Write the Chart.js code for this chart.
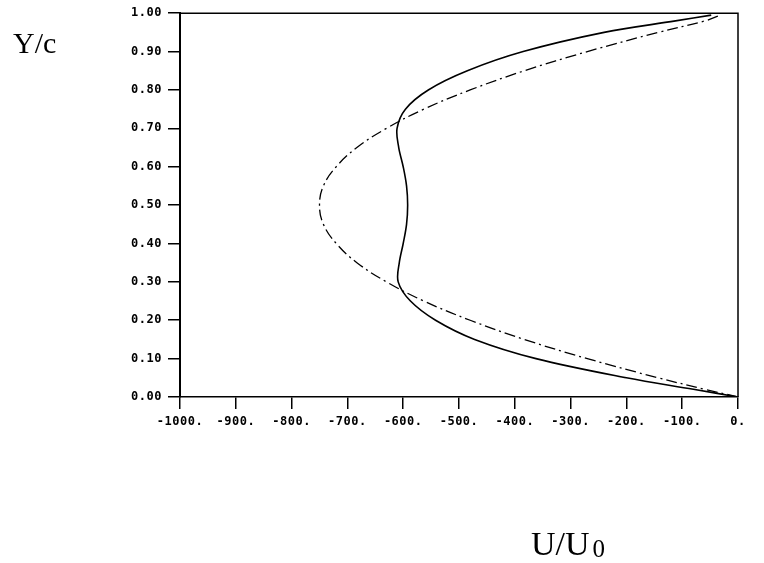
<!DOCTYPE html>
<html>
<head>
<meta charset="utf-8">
<script src="https://cdn.jsdelivr.net/npm/chart.js@4.4.1/dist/chart.umd.min.js"></script>
<style>
  html, body { margin: 0; padding: 0; background: #fff; }
  #wrap { width: 764px; height: 563px; }
</style>
</head>
<body>
<div id="wrap"><canvas id="plot" width="764" height="563"></canvas></div>
<script>
// sampling heights across the channel, Y/c
const yPos = [0, 0.02, 0.05, 0.1, 0.15, 0.2, 0.25, 0.3, 0.35, 0.4, 0.45, 0.5,
              0.55, 0.6, 0.65, 0.7, 0.75, 0.8, 0.85, 0.9, 0.95, 0.98, 0.995];

// solid profile, U/U0
const solidU = [0, -80, -200, -362, -472, -542, -587, -609, -607, -600, -594, -592,
                -594, -600, -608, -611, -596, -555, -485, -385, -240, -112, -48];

// dash-dot profile, U/U0
const dashU = [0, -59, -143, -270, -383, -480, -563, -630, -683, -720, -743, -750,
               -743, -720, -683, -630, -563, -480, -383, -270, -143, -59, -32];

const xTicks = [-1000, -900, -800, -700, -600, -500, -400, -300, -200, -100, 0];
const yTicks = [0, 0.1, 0.2, 0.3, 0.4, 0.5, 0.6, 0.7, 0.8, 0.9, 1.0];

const pts = (us) => us.map((u, i) => ({ x: u, y: yPos[i] }));

const tickFont = { family: "'DejaVu Sans Mono', monospace", size: 12, weight: 'bold' };

// frame around the plot, plus the two axis titles
const framePlugin = {
  id: 'frame',
  beforeDraw(chart) {
    chart.ctx.letterSpacing = '0.5px';
  },
  afterDraw(chart) {
    const { ctx, chartArea: a } = chart;
    ctx.save();
    ctx.letterSpacing = '0px';
    ctx.strokeStyle = '#000';
    ctx.lineWidth = 1.5;
    ctx.beginPath();
    ctx.moveTo(a.left, a.top);
    ctx.lineTo(a.right, a.top);
    ctx.lineTo(a.right, a.bottom);
    ctx.stroke();

    ctx.fillStyle = '#000';
    ctx.textBaseline = 'alphabetic';
    ctx.textAlign = 'left';
    ctx.font = "30px 'Liberation Serif', serif";
    ctx.fillText('Y/c', 13, 53);

    ctx.font = "34px 'Liberation Serif', serif";
    ctx.fillText('U/U', 531, 555);
    const w = ctx.measureText('U/U').width;
    ctx.font = "25px 'Liberation Serif', serif";
    ctx.fillText('0', 531 + w + 3, 557);
    ctx.restore();
  }
};

new Chart(document.getElementById('plot'), {
  type: 'scatter',
  data: {
    datasets: [
      {
        label: 'solid',
        data: pts(solidU),
        showLine: true,
        borderColor: '#000',
        borderWidth: 1.6,
        pointRadius: 0,
        tension: 0.35,
        fill: false
      },
      {
        label: 'dash-dot',
        data: pts(dashU),
        showLine: true,
        borderColor: '#000',
        borderWidth: 1.3,
        borderDash: [11, 4, 2, 4],
        pointRadius: 0,
        tension: 0.4,
        fill: false
      }
    ]
  },
  options: {
    responsive: false,
    animation: false,
    layout: { padding: { left: 100, top: 12, right: 26, bottom: 136 } },
    plugins: {
      legend: { display: false },
      tooltip: { enabled: false }
    },
    scales: {
      x: {
        type: 'linear',
        min: -1000,
        max: 0,
        afterBuildTicks: (s) => { s.ticks = xTicks.map(v => ({ value: v })); },
        afterFit: (s) => { s.height = 30; },
        ticks: {
          color: '#000',
          font: tickFont,
          padding: 6,
          maxRotation: 0,
          autoSkip: false,
          callback: (v) => v + '.'
        },
        grid: {
          drawOnChartArea: false,
          drawTicks: true,
          tickLength: 12,
          tickColor: '#000',
          lineWidth: 1.5
        },
        border: { display: true, color: '#000', width: 1.5 }
      },
      y: {
        type: 'linear',
        min: 0,
        max: 1,
        afterBuildTicks: (s) => { s.ticks = yTicks.map(v => ({ value: v })); },
        afterFit: (s) => { s.width = 80; },
        ticks: {
          color: '#000',
          font: tickFont,
          padding: 6,
          autoSkip: false,
          callback: (v) => v.toFixed(2)
        },
        grid: {
          drawOnChartArea: false,
          drawTicks: true,
          tickLength: 12,
          tickColor: '#000',
          lineWidth: 1.5
        },
        border: { display: true, color: '#000', width: 2 }
      }
    }
  },
  plugins: [framePlugin]
});
</script>
</body>
</html>
